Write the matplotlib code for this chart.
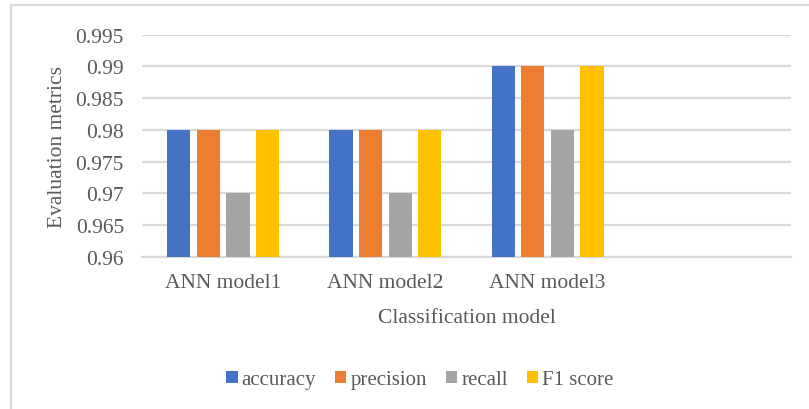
import matplotlib.pyplot as plt
import numpy as np
from matplotlib.lines import Line2D

# category axis has a fourth, empty slot like the spreadsheet chart
models = ["ANN model1", "ANN model2", "ANN model3", ""]
metrics = ["accuracy", "precision", "recall", "F1 score"]
accuracy = [0.98, 0.98, 0.99]
precision = [0.98, 0.98, 0.99]
recall = [0.97, 0.97, 0.98]
f1_score = [0.98, 0.98, 0.99]
colors = ["#4472C4", "#ED7D31", "#A5A5A5", "#FFC000"]

txt = "#595959"
grid = "#D9D9D9"

plt.rcParams["font.family"] = ["Liberation Serif", "DejaVu Serif"]

fig = plt.figure(figsize=(8.09, 4.10), dpi=100)
ax = fig.add_axes([142 / 809, 1 - 257.7 / 410, 649 / 809, 222 / 410])

x = np.arange(3)
slot = 0.1824
width = 0.1436
for i, (vals, name) in enumerate(zip([accuracy, precision, recall, f1_score], metrics)):
    ax.bar(x + (i - 1.5) * slot, np.array(vals) - 0.96, width, bottom=0.96,
           color=colors[i], label=name, zorder=3)

ax.set_xlim(-0.5, len(models) - 0.5)
ax.set_ylim(0.96, 0.995)
ax.set_yticks(np.arange(0.96, 0.9951, 0.005))
ax.set_yticklabels(["0.96", "0.965", "0.97", "0.975", "0.98", "0.985", "0.99", "0.995"])
ax.set_xticks(np.arange(len(models)))
ax.set_xticklabels(models)

ax.yaxis.grid(True, color=grid, linewidth=1.6, zorder=0)
ax.set_axisbelow(True)
for s in ["top", "right", "left"]:
    ax.spines[s].set_visible(False)
ax.spines["bottom"].set_color(grid)
ax.spines["bottom"].set_linewidth(1.6)
ax.tick_params(axis="both", length=0, labelsize=15.5, labelcolor=txt)
ax.tick_params(axis="y", pad=13)
ax.tick_params(axis="x", pad=12)

ax.set_xlabel("Classification model", fontsize=15.5, color=txt, labelpad=11)
ax.set_ylabel("Evaluation metrics", fontsize=15.5, color=txt, labelpad=6)

fig.legend(loc="center", bbox_to_anchor=(0.519, 1 - 381 / 410), ncol=4,
           frameon=False, fontsize=15, labelcolor=txt, handlelength=0.55,
           handleheight=0.55, handletextpad=0.2, columnspacing=0.9)

# thin frame around the chart area (left and top edges)
fig.add_artist(Line2D([10.5 / 809, 10.5 / 809], [0, 1 - 6 / 410],
                      transform=fig.transFigure, color=grid, linewidth=1.5))
fig.add_artist(Line2D([10.5 / 809, 1], [1 - 6 / 410, 1 - 6 / 410],
                      transform=fig.transFigure, color=grid, linewidth=1.5))

fig.savefig("out.png", dpi=100)
